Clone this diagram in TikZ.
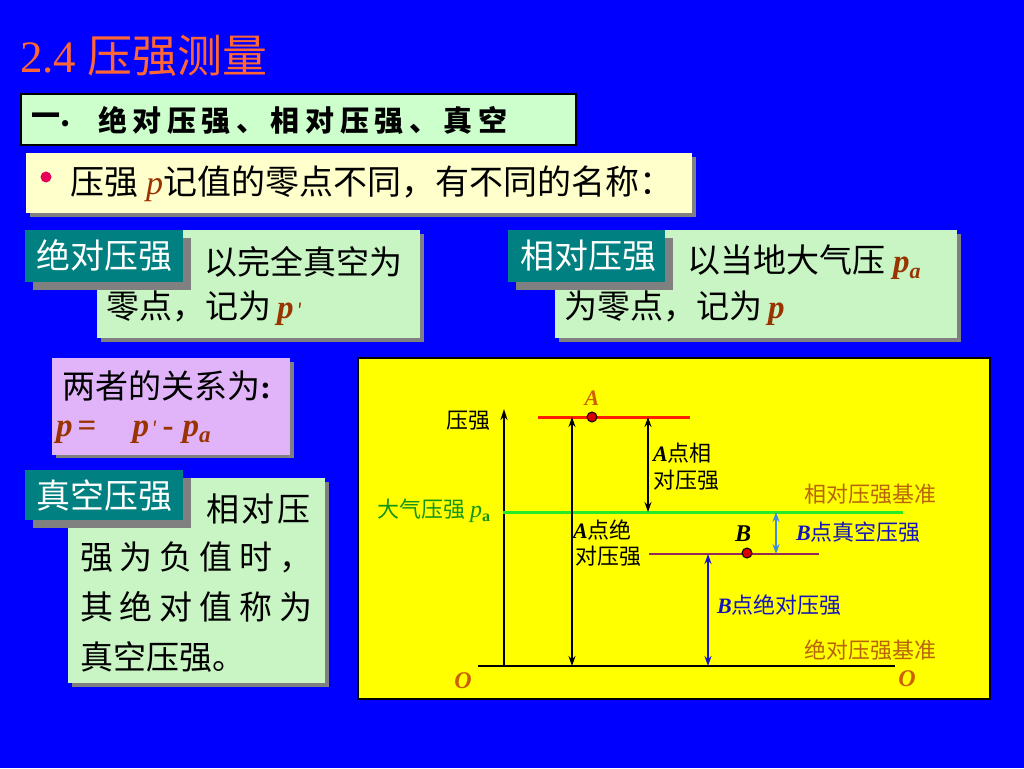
\documentclass[tikz,border=0pt]{standalone}
\usepackage{fontspec}
\setmainfont{Liberation Serif}
\newfontfamily\cjk{Noto Sans CJK SC}
\usetikzlibrary{arrows.meta}
\definecolor{bgblue}{RGB}{0,0,255}
\definecolor{torange}{RGB}{255,102,51}
\definecolor{lgreenA}{RGB}{204,255,204}
\definecolor{lgreenB}{RGB}{200,245,195}
\definecolor{lyellow}{RGB}{255,255,204}
\definecolor{tealc}{RGB}{0,128,128}
\definecolor{shadowc}{RGB}{128,128,128}
\definecolor{lavender}{RGB}{225,180,250}
\definecolor{pbrown}{RGB}{153,51,0}
\definecolor{bulletc}{RGB}{230,0,90}
\definecolor{chartyellow}{RGB}{255,255,0}
\definecolor{redline}{RGB}{255,30,0}
\definecolor{greenline}{RGB}{40,235,40}
\definecolor{purpleline}{RGB}{150,40,90}
\definecolor{lblue}{RGB}{60,140,230}
\definecolor{dblue}{RGB}{20,20,200}
\definecolor{txtblue}{RGB}{20,20,190}
\definecolor{txtgreen}{RGB}{20,150,20}
\definecolor{txtbrown}{RGB}{185,100,10}
\definecolor{lblorange}{RGB}{205,95,0}
\newcommand{\fsz}[1]{\fontsize{#1}{#1}\selectfont}
\tikzset{
  txt/.style={inner sep=0pt, anchor=west},
  body/.style={txt, font=\fsz{33}\cjk},
  lbltxt/.style={inner sep=0pt, text=white, font=\fsz{34}\cjk},
  chart/.style={txt, font=\fsz{22}\cjk},
  arr/.style={line width=1.4pt, {Stealth[length=10pt,width=7pt]}-{Stealth[length=10pt,width=7pt]}},
  dot/.style={circle, fill=red!85!black, draw=black, line width=1pt, minimum size=10pt, inner sep=0pt},
}
\begin{document}
\begin{tikzpicture}[x=1pt,y=-1pt]
\useasboundingbox (0,0) rectangle (1024,768);
\fill[bgblue] (0,0) rectangle (1024,768);

% title
\node[txt, text=torange, font=\fsz{45}] (title) at (20,56) {2.4 {\cjk 压强测量}};

% box 1
\draw[fill=lgreenA, draw=black, line width=1.5pt] (21,94) rectangle (576,145);
\node[txt, font=\fsz{29}\cjk\bfseries] (b1a) at (31,120) {一.};
\node[txt, font=\fsz{29}\cjk\bfseries] (b1b) at (98,120) {\makebox[409pt]{绝\hfill 对\hfill 压\hfill 强\hfill 、\hfill 相\hfill 对\hfill 压\hfill 强\hfill 、\hfill 真\hfill 空}};

% box 2
\fill[shadowc] (30,157) rectangle (696,217);
\fill[lyellow] (26,153) rectangle (692,213);
\fill[bulletc] (46,177) circle (5.5);
\node[txt, font=\fsz{34}] (b2) at (70,184) {{\cjk 压强}\hspace{8pt}{\itshape\color{pbrown}p}{\cjk 记值的零点不同，有不同的名称：}};

% box 3 (absolute)
\fill[shadowc] (101,234) rectangle (424,342);
\fill[lgreenB] (97,230) rectangle (420,338);
\fill[shadowc] (33,238) rectangle (191,290);
\fill[tealc] (25,230) rectangle (183,282);
\node[lbltxt] (l3) at (104,256) {绝对压强};
\node[body] (b3a) at (204,262) {以完全真空为};
\node[body] (b3b) at (106,308) {零点，记为\hspace{6pt}{\rmfamily\bfseries\itshape\color{pbrown}p}\hspace{4pt}{\color{pbrown}\fsz{20}′}};

% box 4 (relative)
\fill[shadowc] (559,234) rectangle (961,342);
\fill[lgreenB] (555,230) rectangle (957,338);
\fill[shadowc] (516,238) rectangle (673,290);
\fill[tealc] (508,230) rectangle (665,282);
\node[lbltxt] (l4) at (588,256) {相对压强};
\node[body] (b4a) at (687,262) {以当地大气压\hspace{8pt}{\rmfamily\bfseries\itshape\color{pbrown}p\raisebox{-6pt}{\fsz{22}a}}};
\node[body] (b4b) at (564,308) {为零点，记为\hspace{6pt}{\rmfamily\bfseries\itshape\color{pbrown}p}};

% box 5 (relation)
\fill[shadowc] (56,362) rectangle (294,458);
\fill[lavender] (52,358) rectangle (290,455);
\node[body] (b5a) at (62,386) {两者的关系为{\rmfamily\bfseries :}};
\node[txt, font=\fsz{33}\bfseries\itshape, text=pbrown] (b5b) at (56,432) {p\hspace{5pt}{\upshape =}\hspace{36pt}p\hspace{3pt}{\upshape\mdseries\fsz{20}\cjk ′}\hspace{5pt}{\upshape -}\hspace{9pt}p\raisebox{-6pt}{\fsz{23}a}};

% box 6 (vacuum)
\fill[shadowc] (72,482) rectangle (329,687);
\fill[lgreenB] (68,478) rectangle (325,683);
\fill[shadowc] (33,478) rectangle (191,528);
\fill[tealc] (25,470) rectangle (183,520);
\node[lbltxt] (l6) at (104,496) {真空压强};
\node[body] (b6a) at (206,509) {\makebox[104pt]{相\hfill 对\hfill 压}};
\node[body] (b6b) at (80,557) {\makebox[232pt]{强\hfill 为\hfill 负\hfill 值\hfill 时\hfill ，}};
\node[body] (b6c) at (80,607) {\makebox[232pt]{其\hfill 绝\hfill 对\hfill 值\hfill 称\hfill 为}};
\node[body] (b6d) at (80,657) {真空压强。};

% chart
\draw[fill=chartyellow, draw=black, line width=1.5pt] (358,358) rectangle (990,699);
\coordinate (axB) at (504,666);
\coordinate (axT) at (504,409);
\coordinate (baseL) at (478,666);
\coordinate (baseR) at (895,666);
\coordinate (redL) at (538,417);
\coordinate (redR) at (690,417);
\coordinate (grnL) at (503,512);
\coordinate (grnR) at (903,512);
\coordinate (purL) at (649,554);
\coordinate (purR) at (819,554);
\coordinate (aAbsB) at (572,666);
\coordinate (aAbsT) at (572,417);
\coordinate (aRelT) at (648,417);
\coordinate (aRelB) at (648,512);
\coordinate (bVacT) at (776,512);
\coordinate (bVacB) at (776,554);
\coordinate (bAbsT) at (708,554);
\coordinate (bAbsB) at (708,666);

\draw[line width=1.5pt] (baseL) -- (baseR);
\draw[line width=1.5pt, -{Stealth[length=11pt,width=7pt]}] (axB) -- (axT);
\draw[redline, line width=3pt] (redL) -- (redR);
\draw[greenline, line width=3pt] (grnL) -- (grnR);
\draw[purpleline, line width=2pt] (purL) -- (purR);
\draw[arr] (aAbsB) -- (aAbsT);
\draw[arr] (aRelT) -- (aRelB);
\draw[arr, lblue] (bVacT) -- (bVacB);
\draw[arr, dblue] (bAbsT) -- (bAbsB);
\node[dot] (dotA) at (592,417) {};
\node[dot] (dotB) at (747,553) {};

\node[inner sep=0pt, font=\fsz{22}\cjk] (ylab) at (468,421) {压强};
\node[chart, text=txtgreen] (pa) at (377,511) {大气压强\hspace{5pt}{\rmfamily\itshape\fsz{24}p\raisebox{-4pt}{\upshape\bfseries\fsz{16}a}}};
\node[chart] (aabs1) at (573,530) {{\rmfamily\bfseries\itshape A}点绝};
\node[chart] (aabs2) at (575,556) {对压强};
\node[chart] (arel1) at (653,453) {{\rmfamily\bfseries\itshape A}点相};
\node[chart] (arel2) at (653,480) {对压强};
\node[chart, text=txtbrown] (relref) at (804,494) {相对压强基准};
\node[chart, text=txtbrown] (absref) at (804,650) {绝对压强基准};
\node[chart, text=txtblue] (bvac) at (796,532) {{\rmfamily\bfseries\itshape B}点真空压强};
\node[chart, text=txtblue] (babs) at (717,605) {{\rmfamily\bfseries\itshape B}点绝对压强};
\node[inner sep=0pt, text=lblorange, font=\fsz{22}\bfseries\itshape] (labA) at (592,398) {A};
\node[inner sep=0pt, font=\fsz{24}\bfseries\itshape] (labB) at (743,534) {B};
\node[inner sep=0pt, text=lblorange, font=\fsz{24}\bfseries\itshape] (o1) at (463,681) {O};
\node[inner sep=0pt, text=lblorange, font=\fsz{24}\bfseries\itshape] (o2) at (907,679) {O};
\end{tikzpicture}
\end{document}
